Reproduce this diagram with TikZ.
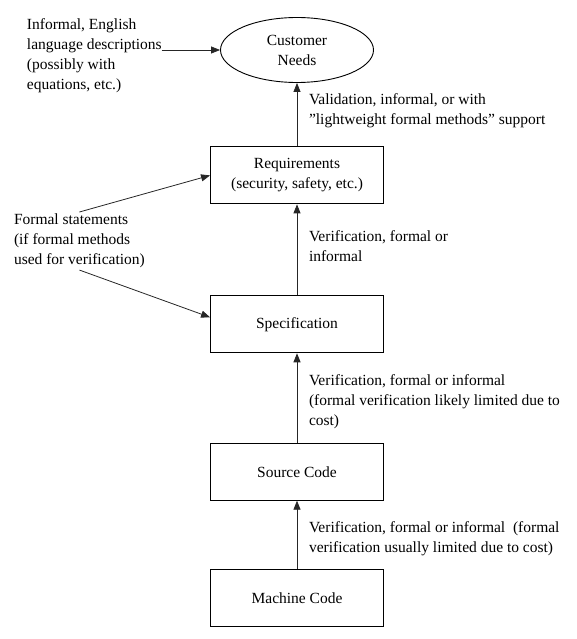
\documentclass[tikz,border=0pt]{standalone}
\usepackage{fontspec}
\setmainfont{Liberation Serif}
\usetikzlibrary{shapes.geometric,arrows.meta,positioning}

\begin{document}
\begin{tikzpicture}[
    x=1pt, y=-1pt,
    font=\fontsize{15.5}{20}\selectfont,
    box/.style={draw, rectangle, minimum width=173pt, minimum height=57pt, align=center, inner sep=2pt, line width=0.9pt},
    goal/.style={draw, ellipse, minimum width=153pt, minimum height=65pt, align=center, inner sep=1pt, line width=0.9pt},
    note/.style={align=left, anchor=north west, inner sep=0pt, outer sep=2pt},
    wire/.style={line width=0.8pt, draw=black!85, -{Triangle[length=9pt,width=7pt]}}
  ]
    \useasboundingbox (0,0) rectangle (577,639);
    % main chain
    \node[goal] (needs) at (297,50) {Customer\\Needs};
    \node[box, below=63.5pt of needs] (req) {Requirements\\(security, safety, etc.)};
    \node[box, below=91pt of req] (spec) {Specification};
    \node[box, below=89.5pt of spec] (src) {Source Code};
    \node[box, below=68.5pt of src] (mach) {Machine Code};
    % side notes
    \node[note] (inform) at (25,17) {Informal, English\\language descriptions\\(possibly with\\equations, etc.)};
    \node[note] (formal) at (12,212) {Formal statements\\(if formal methods\\used for verification)};
    \node[note] (valid) at (307,92) {Validation, informal, or with\\''lightweight formal methods'' support};
    \node[note] (ver1) at (307,229) {Verification, formal or\\informal};
    \node[note] (ver2) at (307,373) {Verification, formal or informal\\(formal verification likely limited due to\\cost)};
    \node[note] (ver3) at (307,520) {Verification, formal or informal\ \ (formal\\verification usually limited due to cost)};
    % connectors
    \draw[wire] (req) -- (needs);
    \draw[wire] (spec) -- (req);
    \draw[wire] (src) -- (spec);
    \draw[wire] (mach) -- (src);
    \draw[wire] ([xshift=-2pt]inform.east |- needs.west) -- (needs.west);
    \draw[wire] (formal.north) -- (req.west);
    \draw[wire] (formal.south) -- ([yshift=7pt]spec.west);
\end{tikzpicture}
\end{document}
